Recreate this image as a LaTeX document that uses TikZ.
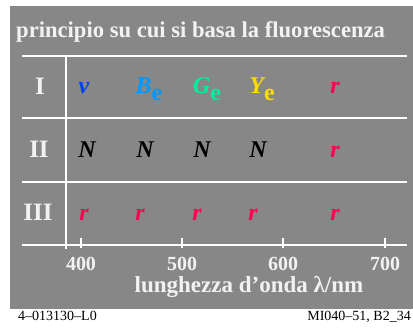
\documentclass[tikz,border=0pt]{standalone}
\usepackage{fontspec}
\setmainfont{Liberation Serif}
\usepackage{xcolor}
\usetikzlibrary{positioning}
\definecolor{panelgray}{HTML}{878787}
\definecolor{paper}{HTML}{F2F2F2}
\definecolor{violetv}{HTML}{0040FF}
\definecolor{bluebe}{HTML}{0099FF}
\definecolor{greenge}{HTML}{00EEA0}
\definecolor{yellowye}{HTML}{FFDD00}
\definecolor{redr}{HTML}{FF0050}
\newcommand{\subscr}[1]{\raisebox{-0.28em}{\upshape #1}}

\begin{document}
\begin{tikzpicture}[
  x=1pt,y=-1pt,
  rule/.style={draw=white,line width=2.2pt},
  tickmark/.style={draw=white,line width=1.8pt},
  heading/.style={anchor=base west,inner sep=0,text=paper,font=\fontsize{22.6}{26}\selectfont\bfseries},
  rownum/.style={anchor=base,inner sep=0,text=paper,font=\fontsize{25}{30}\selectfont\bfseries},
  sym/.style={anchor=base,inner sep=0,font=\fontsize{24}{28}\selectfont\bfseries\itshape},
  ticklab/.style={anchor=base,inner sep=0,text=paper,font=\fontsize{20}{24}\selectfont\bfseries},
  foot/.style={inner sep=0,font=\fontsize{14}{16}\selectfont}]
  \useasboundingbox (0,0) rectangle (413,331);
  \fill[panelgray] (10,6) rectangle (413,309);
  % title
  \node[heading] (title) at (16,38) {principio su cui si basa la fluorescenza};
  % table rules
  \draw[rule] (22,56) -- (407,56);
  \draw[rule] (22,118) -- (407,118);
  \draw[rule] (22,182) -- (407,182);
  \draw[rule] (66,56) -- (66,249);
  % row labels
  \node[rownum] (rowi) at (40,95) {I};
  \node[rownum] (rowii) at (39,158) {II};
  \node[rownum] (rowiii) at (38,221) {III};
  % row I
  \node[sym,text=violetv] (v) at (84,94) {v};
  \node[sym,text=bluebe] (be) at (149,94) {B\subscr{e}};
  \node[sym,text=greenge] (ge) at (207,94) {G\subscr{e}};
  \node[sym,text=yellowye] (ye) at (262,94) {Y\subscr{e}};
  \node[sym,text=redr] (ri) at (335,94) {r};
  % row II
  \foreach \x [count=\i] in {87,145,202,258}
    \node[sym,text=black] (n\i) at (\x,158) {N};
  \node[sym,text=redr] (rii) at (335,158) {r};
  % row III
  \foreach \x [count=\i] in {84,140,197,253,335}
    \node[sym,text=redr] (r\i) at (\x,221) {r};
  % wavelength axis
  \draw[rule] (22,245) -- (407,245);
  \foreach \w/\x in {400/81,500/182,600/283,700/385}{
    \draw[tickmark] (\x,238) -- (\x,248);
    \node[ticklab] (t\w) at (\x,271) {\w};
  }
  \node[ticklab,font=\fontsize{23}{26}\selectfont\bfseries] (axis) at (249,293) {lunghezza d’onda λ/nm};
  % footer
  \node[foot,anchor=base west] (code) at (18,321) {4–013130–L0};
  \node[foot,anchor=base east] (ref) at (411,321) {MI040–51, B2\_34};
\end{tikzpicture}
\end{document}
